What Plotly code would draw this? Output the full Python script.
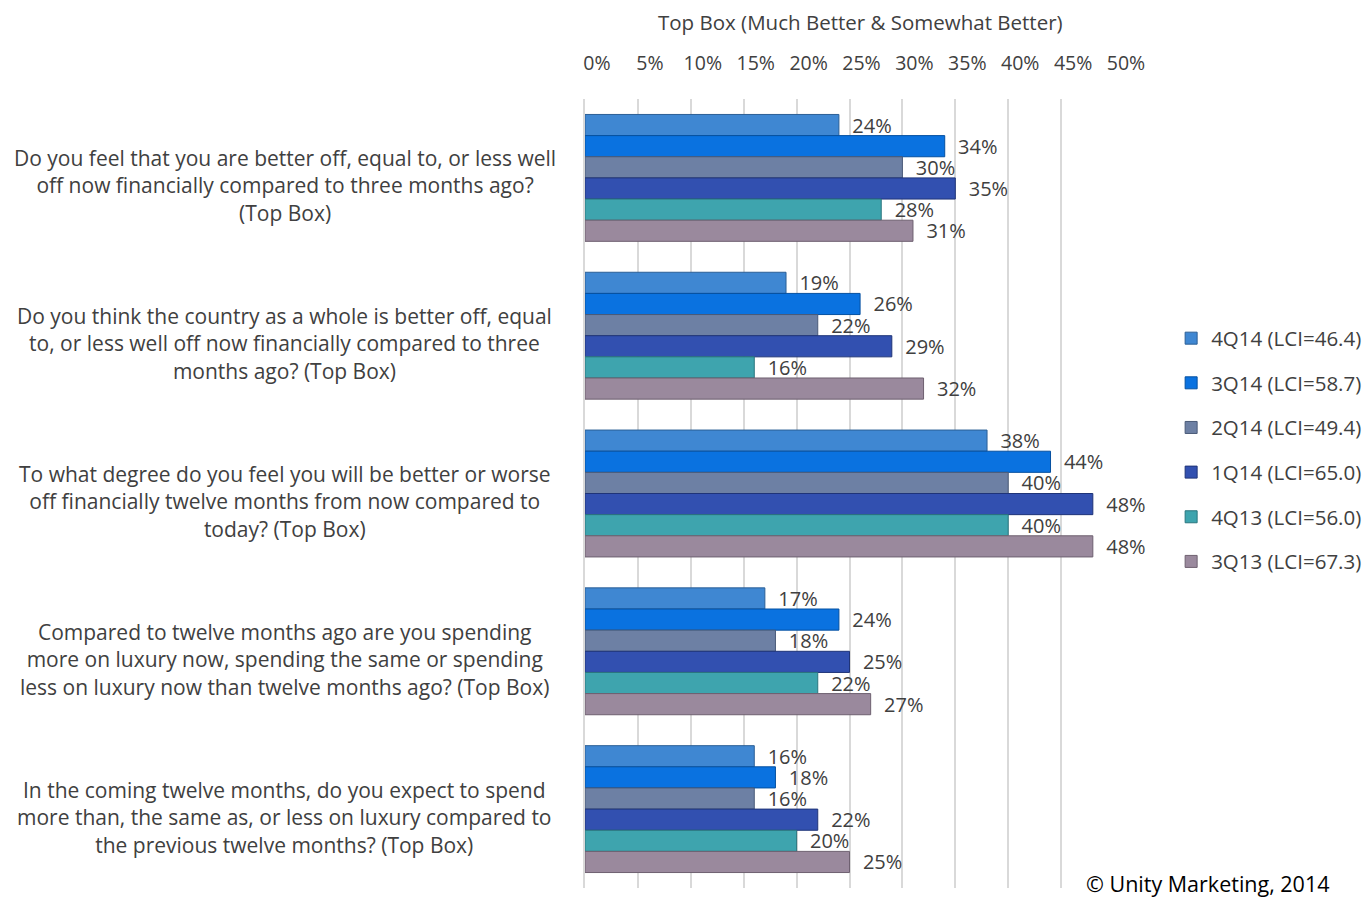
import plotly.graph_objects as go

categories = [
    "Do you feel that you are better off, equal to, or less well<br>off now financially compared to three months ago?<br>(Top Box)",
    "Do you think the country as a whole is better off, equal<br>to, or less well off now financially compared to three<br>months ago? (Top Box)",
    "To what degree do you feel you will be better or worse<br>off financially twelve months from now compared to<br>today? (Top Box)",
    "Compared to twelve months ago are you spending<br>more on luxury now, spending the same or spending<br>less on luxury now than twelve months ago? (Top Box)",
    "In the coming twelve months, do you expect to spend<br>more than, the same as, or less on luxury compared to<br>the previous twelve months? (Top Box)",
]
cat_ids = ["Q1", "Q2", "Q3", "Q4", "Q5"]

series_names = ["4Q14 (LCI=46.4)", "3Q14 (LCI=58.7)", "2Q14 (LCI=49.4)",
                "1Q14 (LCI=65.0)", "4Q13 (LCI=56.0)", "3Q13 (LCI=67.3)"]
s_4q14 = [0.24, 0.19, 0.38, 0.17, 0.16]
s_3q14 = [0.34, 0.26, 0.44, 0.24, 0.18]
s_2q14 = [0.30, 0.22, 0.40, 0.18, 0.16]
s_1q14 = [0.35, 0.29, 0.48, 0.25, 0.22]
s_4q13 = [0.28, 0.16, 0.40, 0.22, 0.20]
s_3q13 = [0.31, 0.32, 0.48, 0.27, 0.25]
series_values = [s_4q14, s_3q14, s_2q14, s_1q14, s_4q13, s_3q13]

colors = ["#3f87d2", "#0a72e0", "#6d80a4", "#3250b0", "#3ea4ae", "#9a899d"]
edges = ["#2b5f96", "#0550a0", "#4a5a78", "#1f3478", "#2a767e", "#6e6070"]

tick_vals = [0, 0.05, 0.10, 0.15, 0.20, 0.25, 0.30, 0.35, 0.40, 0.45, 0.50]
tick_text = ["0%", "5%", "10%", "15%", "20%", "25%", "30%", "35%", "40%", "45%", "50%"]

fig = go.Figure()
for i, (name, vals) in enumerate(zip(series_names, series_values)):
    fig.add_trace(go.Bar(
        y=cat_ids, x=vals, orientation="h", name=name,
        legendgroup=name,
        marker=dict(color=colors[i], line=dict(color=edges[i], width=1)),
        text=["\u00a0\u00a0" + f"{round(v*100)}%" for v in vals],
        textposition="outside",
        constraintext="none",
        textfont=dict(size=20, color="#404040", family="Open Sans"),
        cliponaxis=False,
    ))

# page body adds an 8px offset; figure sized to fill the remaining window
fig.update_layout(
    width=1362, height=891,
    margin=dict(l=577, r=256, t=91, b=11, autoexpand=False),
    paper_bgcolor="white", plot_bgcolor="white",
    barmode="group", bargap=0.196, bargroupgap=0,
    font=dict(family="Open Sans", color="#404040"),
    xaxis=dict(range=[0, 0.5], side="top", tickvals=tick_vals, ticktext=tick_text,
               showgrid=True, gridcolor="#d9d9d9", gridwidth=2, zeroline=False,
               showline=False, ticks="", ticklabelstandoff=24,
               ticklabelshift=12,
               tickfont=dict(size=19.5, color="#404040")),
    yaxis=dict(autorange="reversed", showticklabels=False, showgrid=False,
               zeroline=False, showline=True, linecolor="#d9d9d9", linewidth=2),
    legend=dict(x=1.108, y=0.722, xanchor="left", yanchor="top",
                traceorder="grouped", tracegroupgap=15,
                font=dict(size=20.5, color="#404040"), itemwidth=30),
    showlegend=True,
)

for cid, label in zip(cat_ids, categories):
    fig.add_annotation(x=-0.568, xref="paper", y=cid, yref="y", text=label,
                       showarrow=False, align="center", xanchor="center",
                       yanchor="middle", yshift=-8,
                       font=dict(size=21, color="#404040", family="Open Sans"))

fig.add_annotation(x=0.52, xref="paper", y=1.103, yref="paper",
                   text="Top Box (Much Better & Somewhat Better)", showarrow=False,
                   xanchor="center", yanchor="middle", yshift=-4,
                   font=dict(size=20.5, color="#404040", family="Open Sans"))

fig.add_annotation(x=1.412, xref="paper", y=0.0, yref="paper",
                   text="© Unity Marketing, 2014", showarrow=False,
                   xanchor="right", yanchor="middle", yshift=5,
                   font=dict(size=21.5, color="#000000", family="Open Sans"))

fig.write_html("out.html")
